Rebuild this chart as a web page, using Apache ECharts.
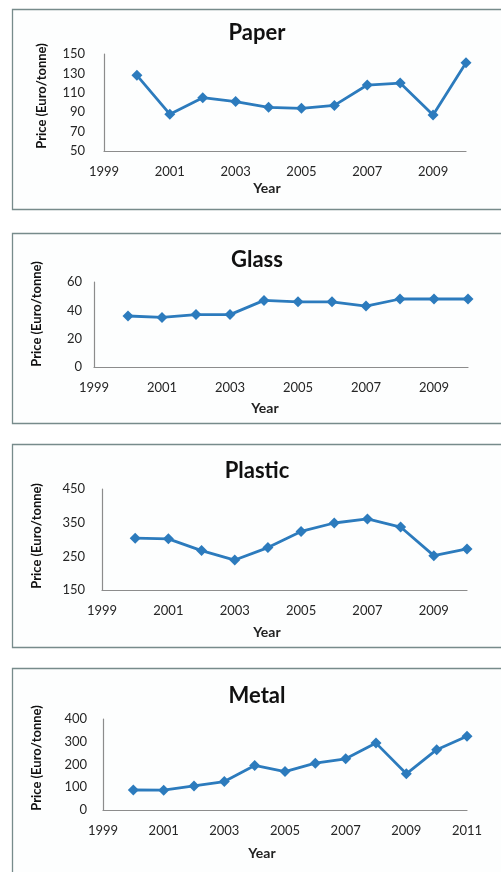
<!DOCTYPE html>
<html>
<head>
<meta charset="utf-8">
<script src="https://cdn.jsdelivr.net/npm/echarts@6/dist/echarts.min.js"></script>
<style>
  html, body { margin: 0; padding: 0; background: #fff; }
  #chart { width: 501px; height: 872px; }
</style>
</head>
<body>
<div id="chart"></div>
<script>
// price per tonne
const years = [2000, 2001, 2002, 2003, 2004, 2005, 2006, 2007, 2008, 2009, 2010];
const metalYears = [2000, 2001, 2002, 2003, 2004, 2005, 2006, 2007, 2008, 2009, 2010, 2011];

const paperPrice = [128, 88, 105, 101, 95, 94, 97, 118, 120, 87, 141];
const glassPrice = [36, 35, 37, 37, 47, 46, 46, 43, 48, 48, 48];
const plasticPrice = [304, 302, 267, 239, 276, 324, 349, 361, 337, 252, 272];
const metalPrice = [88, 87, 106, 125, 196, 169, 206, 225, 294, 159, 265, 324];

const paperTicks = [50, 70, 90, 110, 130, 150];
const glassTicks = [0, 20, 40, 60];
const plasticTicks = [150, 250, 350, 450];
const metalTicks = [0, 100, 200, 300, 400];

const yearTicks = [1999, 2010];
const metalYearTicks = [1999, 2011];

const titles = ['Paper', 'Glass', 'Plastic', 'Metal'];
const yName = 'Price (Euro/tonne)';
const xName = 'Year';

const LINE = '#2c7bbd';
const FONT = 'Lato, "Open Sans", sans-serif';

// layout of the four boxes
const layout = [
  { box: [12, 9, 200], grid: { left: 104, top: 54, width: 362, height: 97 }, yMargin: 19, titleY: 22, nameY: 96, nameX: 42, yearX: 267, yearY: 188 },
  { box: [12, 233, 190], grid: { left: 94, top: 282, width: 374, height: 85 }, yMargin: 12, titleY: 249, nameY: 314, nameX: 37, yearX: 265, yearY: 408 },
  { box: [12, 444, 203], grid: { left: 102, top: 489, width: 365, height: 101 }, yMargin: 17, titleY: 460, nameY: 536, nameX: 37, yearX: 267, yearY: 632 },
  { box: [12, 668, 220], grid: { left: 103, top: 719, width: 364, height: 91 }, yMargin: 16, titleY: 685, nameY: 758, nameX: 37, yearX: 262, yearY: 853 }
];

const panels = [
  { x: years, y: paperPrice, ticks: paperTicks, xr: yearTicks },
  { x: years, y: glassPrice, ticks: glassTicks, xr: yearTicks },
  { x: years, y: plasticPrice, ticks: plasticTicks, xr: yearTicks },
  { x: metalYears, y: metalPrice, ticks: metalTicks, xr: metalYearTicks }
];

const chart = echarts.init(document.getElementById('chart'), null, { renderer: 'canvas' });

const graphic = [];
layout.forEach((l, i) => {
  graphic.push({
    type: 'rect',
    shape: { x: l.box[0] + 0.5, y: l.box[1] + 0.5, width: 500, height: l.box[2] },
    style: { fill: '#fdfefe', stroke: '#778b8b', lineWidth: 1.3 },
    z: -10
  });
  graphic.push({
    type: 'text',
    x: l.nameX,
    y: l.nameY,
    rotation: Math.PI / 2,
    style: {
      text: yName,
      font: 'bold 13px ' + FONT,
      fill: '#111',
      textAlign: 'center',
      textVerticalAlign: 'middle'
    }
  });
  graphic.push({
    type: 'text',
    x: l.yearX,
    y: l.yearY,
    style: {
      text: xName,
      font: 'bold 14px ' + FONT,
      fill: '#222',
      textAlign: 'center',
      textVerticalAlign: 'middle'
    }
  });
});

const option = {
  animation: false,
  backgroundColor: '#fff',
  title: titles.map((t, i) => ({
    text: t,
    left: 257,
    top: layout[i].titleY,
    textAlign: 'center',
    padding: 0,
    textStyle: { fontFamily: FONT, fontWeight: 'bold', fontSize: 22, color: '#111' }
  })),
  grid: layout.map(l => Object.assign({ containLabel: false }, l.grid)),
  xAxis: panels.map((p, i) => ({
    type: 'value',
    gridIndex: i,
    min: p.xr[0],
    max: p.xr[1],
    interval: 1,
    axisLine: { show: true, lineStyle: { color: '#8c8c8c', width: 1.2 } },
    axisTick: { show: false },
    splitLine: { show: false },
    axisLabel: {
      margin: 14,
      fontFamily: FONT,
      fontSize: 13,
      color: '#262626',
      showMinLabel: true,
      showMaxLabel: true,
      formatter: v => (v % 2 === 1 ? String(v) : '')
    }
  })),
  yAxis: panels.map((p, i) => ({
    type: 'value',
    gridIndex: i,
    min: p.ticks[0],
    max: p.ticks[p.ticks.length - 1],
    interval: p.ticks[1] - p.ticks[0],
    axisLine: { show: true, lineStyle: { color: '#8c8c8c', width: 1.2 } },
    axisTick: { show: false },
    splitLine: { show: false },
    axisLabel: {
      margin: layout[i].yMargin,
      fontFamily: FONT,
      fontSize: 13,
      color: '#262626'
    }
  })),
  series: panels.map((p, i) => ({
    type: 'line',
    xAxisIndex: i,
    yAxisIndex: i,
    data: p.x.map((yr, k) => [yr, p.y[k]]),
    symbol: 'diamond',
    symbolSize: 11,
    lineStyle: { color: LINE, width: 2.8 },
    itemStyle: { color: LINE },
    silent: true
  })),
  graphic: graphic
};

chart.setOption(option);
</script>
</body>
</html>
